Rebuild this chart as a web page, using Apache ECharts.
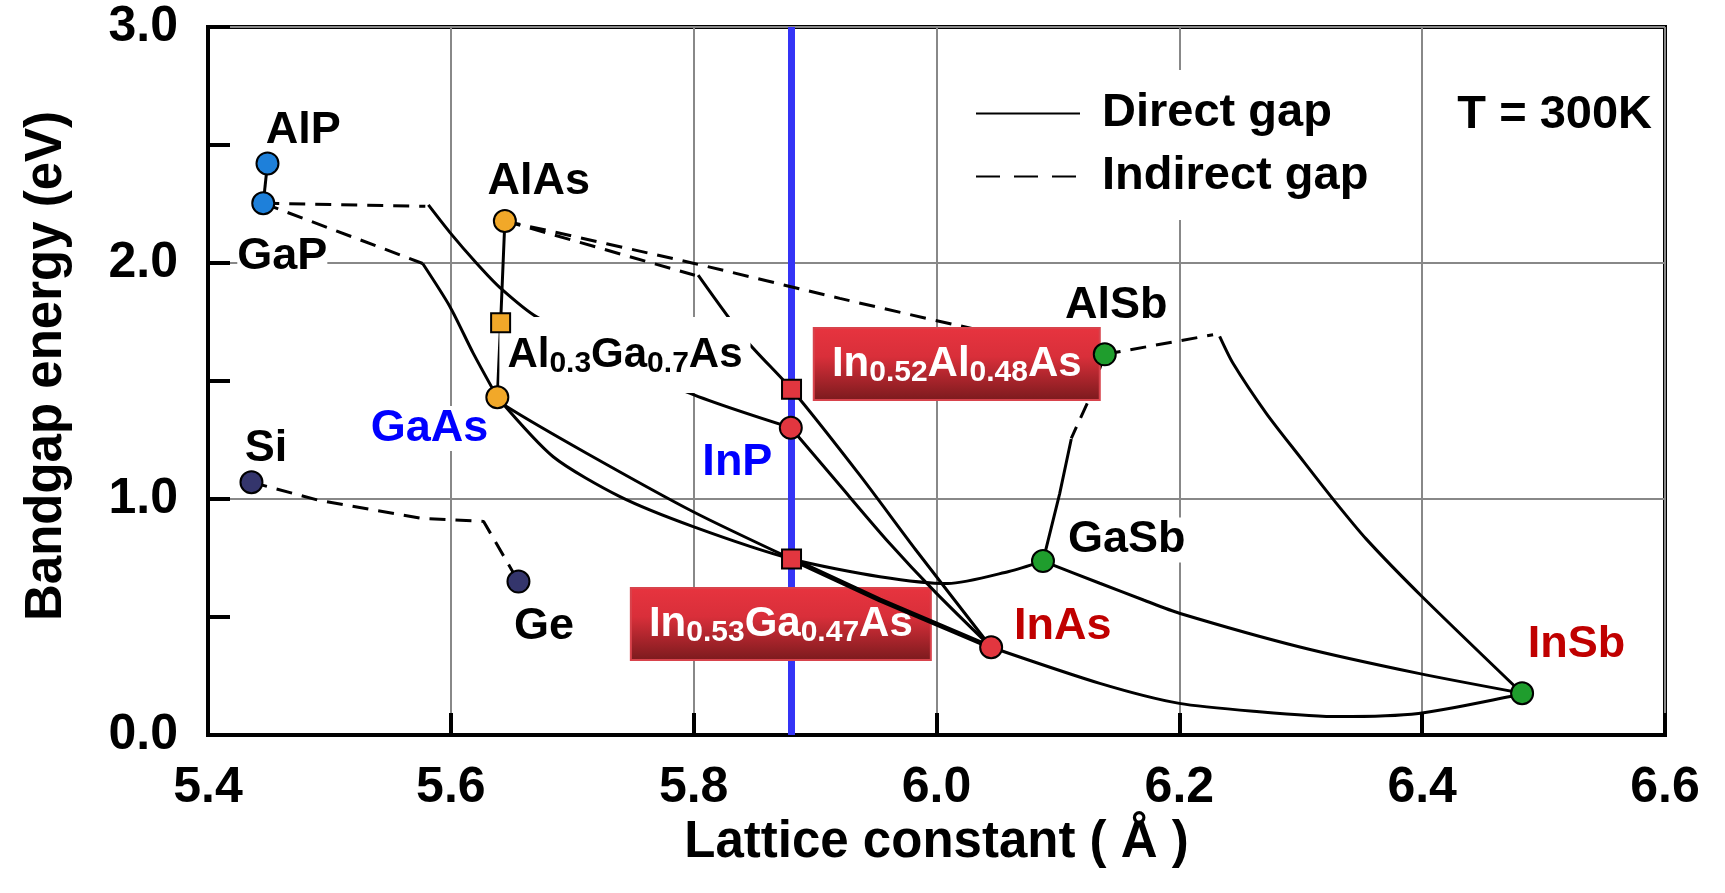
<!DOCTYPE html>
<html>
<head>
<meta charset="UTF-8">
<title>Bandgap energy vs lattice constant</title>
<style>
  html, body { margin: 0; padding: 0; background: #fff; }
  #chart { width: 1725px; height: 893px; }
</style>
</head>
<body>
<div id="chart"></div>
<script src="https://cdn.jsdelivr.net/npm/echarts@6/dist/echarts.min.js"></script>
<script>
// [lattice constant (Å), bandgap (eV)]
var AlP = [5.449, 2.422];
var GaP = [5.4455, 2.253];
var AlAs = [5.6445, 2.178];
var GaAs = [5.6383, 1.431];
var Al03Ga07As = [5.641, 1.747];
var Si = [5.4358, 1.071];
var Ge = [5.6557, 0.650];
var InP = [5.880, 1.302];
var InAs = [6.045, 0.372];
var In052Al048As = [5.8806, 1.465];
var In053Ga047As = [5.8806, 0.746];
var AlSb = [6.1386, 1.613];
var GaSb = [6.0877, 0.737];
var InSb = [6.4823, 0.177];
var inpLattice = 5.8807;

// alloy curves, "Dir" = direct gap (solid), "Ind" = indirect gap (dashed)
var alGaPDir = [AlP, GaP];
var gaInPInd = [GaP, [5.579, 2.240]];
var gaInPDir = [[5.5815, 2.246], [5.599, 2.131], [5.621, 2.000], [5.640, 1.898], [5.671, 1.771], [5.790, 1.462], InP];
var gaAsPInd = [GaP, [5.5768, 1.998]];
var gaAsPDir = [[5.5768, 1.998], [5.5993, 1.815], [5.6185, 1.617], GaAs];
var alGaAsDir = [AlAs, Al03Ga07As, GaAs];
var alAsSbInd = [AlAs, [5.7996, 1.999], [5.9204, 1.850], [6.030, 1.722], AlSb];
var alInAsInd = [AlAs, [5.801, 1.948]];
var alInAsDir = [[5.8037, 1.949], [5.843, 1.674], In052Al048As, [5.937, 1.10], [5.983, 0.784], InAs];
var inAsPDir = [InP, [5.92, 1.06], [5.96, 0.82], [6.00, 0.60], InAs];
var gaInAsDir = [GaAs, [5.6459, 1.392], [5.7118, 1.194], [5.7996, 0.946], In053Ga047As];
var gaInAsDir2 = [In053Ga047As, [5.9534, 0.572], InAs];
var gaAsSbDir = [GaAs, [5.6843, 1.179], [5.7393, 1.010], [5.7996, 0.883], In053Ga047As, [5.9534, 0.671], [6.0093, 0.642], [6.0596, 0.693], GaSb];
var gaInSbDir = [GaSb, [6.1345, 0.643], [6.1705, 0.572], [6.2, 0.516], [6.2985, 0.374], [6.397, 0.261], InSb];
var inAsSbDir = [InAs, [6.1345, 0.219], [6.2, 0.134], [6.2657, 0.099], [6.3313, 0.078], [6.397, 0.091], [6.4726, 0.163], InSb];
var alInSbInd = [AlSb, [6.2278, 1.696]];
var alInSbDir = [[6.2332, 1.689], [6.2442, 1.575], [6.2716, 1.363], [6.2991, 1.180], [6.3265, 1.000], [6.354, 0.830], [6.40, 0.586], InSb];
var alGaSbInd = [AlSb, [6.1247, 1.412], [6.111, 1.257]];
var alGaSbDir = [[6.111, 1.254], [6.1015, 1.024], GaSb];
var siGeInd = [Si, [5.49, 0.996], [5.5754, 0.918], [5.627, 0.905], Ge];

// text annotations: name and where it sits
var blackLabels = ['AlP', 'GaP', 'AlAs', 'Si', 'Ge', 'AlSb', 'GaSb'];
var blackLabelPos = [[5.4785, 2.563], [5.4612, 2.027], [5.6725, 2.347], [5.4478, 1.214], [5.6768, 0.459], [6.148, 1.818], [6.1567, 0.826]];
var blueLabels = ['GaAs', 'InP'];
var blueLabelPos = [[5.5824, 1.299], [5.836, 1.153]];
var redLabels = ['InAs', 'InSb'];
var redLabelPos = [[6.104, 0.458], [6.5272, 0.381]];
var alGaAsLabelPos = [5.7434, 1.610];
var inGaAsBoxPos = [5.8718, 0.470];
var inAlAsBoxPos = [6.0167, 1.572];

var FONT = 'Liberation Sans, Arial, Helvetica, sans-serif';
var chart = echarts.init(document.getElementById('chart'));

function curve(data, dashed, smooth, width) {
  return {
    type: 'line',
    data: data,
    z: 3,
    symbol: 'none',
    smooth: smooth ? 0.25 : false,
    silent: true,
    lineStyle: { color: '#000', width: width || 3, type: dashed ? [16, 10] : 'solid' }
  };
}

function markers(data, color, shape) {
  return {
    type: 'scatter',
    data: data,
    z: 6,
    symbol: shape || 'circle',
    symbolSize: shape === 'rect' ? 19 : 22,
    silent: true,
    itemStyle: { color: color, borderColor: '#000', borderWidth: 2, opacity: 1 }
  };
}

function textSeries(names, pos, color) {
  return {
    type: 'scatter',
    z: 1,
    symbolSize: 0,
    silent: true,
    itemStyle: { color: 'transparent', opacity: 1 },
    data: names.map(function (n, i) {
      return { value: pos[i], name: n };
    }),
    label: {
      show: true,
      position: 'inside',
      formatter: '{b}',
      color: color,
      opacity: 1,
      fontSize: 45,
      fontWeight: 'bold',
      fontFamily: FONT,
      backgroundColor: '#fff'
    }
  };
}

var subRich = {
  m: { fontSize: 42, lineHeight: 50, fontWeight: 'bold', fontFamily: FONT, color: '#fff' },
  s: { fontSize: 30, lineHeight: 30, fontWeight: 'bold', fontFamily: FONT, color: '#fff', padding: [18, 0, 0, 0] }
};

function redBox(pos, text, w, z) {
  return {
    type: 'scatter',
    z: z,
    symbolSize: 0,
    silent: true,
    itemStyle: { color: 'transparent', opacity: 1 },
    data: [{ value: pos }],
    label: {
      show: true,
      position: 'inside',
      formatter: text,
      opacity: 1,
      width: w,
      align: 'center',
      verticalAlign: 'middle',
      padding: [10, 0, 10, 0],
      borderColor: '#d8434c',
      borderWidth: 2,
      backgroundColor: new echarts.graphic.LinearGradient(0, 0, 0, 1, [
        { offset: 0, color: '#e7343f' },
        { offset: 0.4, color: '#d92f3a' },
        { offset: 1, color: '#7a1a1d' }
      ]),
      rich: subRich
    }
  };
}

var series = [
  { name: 'Direct gap', type: 'line', data: [], symbol: 'none', lineStyle: { color: '#000', width: 3 }, itemStyle: { color: '#000' } },
  { name: 'Indirect gap', type: 'line', data: [], symbol: 'none', lineStyle: { color: '#000', width: 3, type: [19, 11] }, itemStyle: { color: '#000' } },
  // InP lattice constant
  {
    type: 'line', data: [], z: 1.5, silent: true,
    markLine: {
      z: 1.5,
      silent: true, symbol: 'none', label: { show: false }, animation: false,
      lineStyle: { color: '#3434f6', width: 7, type: 'solid', opacity: 1 },
      data: [{ xAxis: inpLattice }]
    }
  },
  curve(alGaPDir, false, false),
  curve(gaInPInd, true, false),
  curve(gaInPDir, false, true),
  curve(gaAsPInd, true, false),
  curve(gaAsPDir, false, true),
  curve(alGaAsDir, false, false),
  curve(alAsSbInd, true, true),
  curve(alInAsInd, true, false),
  curve(alInAsDir, false, true),
  curve(inAsPDir, false, true),
  curve(gaInAsDir, false, true),
  curve(gaInAsDir2, false, false, 5),
  curve(gaAsSbDir, false, true),
  curve(gaInSbDir, false, true),
  curve(inAsSbDir, false, true),
  curve(alInSbInd, true, false),
  curve(alInSbDir, false, true),
  curve(alGaSbInd, true, false),
  curve(alGaSbDir, false, false),
  curve(siGeInd, true, false),
  textSeries(blackLabels, blackLabelPos, '#000'),
  textSeries(blueLabels, blueLabelPos, '#0000ff'),
  textSeries(redLabels, redLabelPos, '#c00000'),
  {
    type: 'scatter', z: 4, symbolSize: 0, silent: true,
    itemStyle: { color: 'transparent', opacity: 1 },
    data: [{ value: alGaAsLabelPos }],
    label: {
      show: true, position: 'inside', opacity: 1,
      formatter: '{m|Al}{s|0.3}{m|Ga}{s|0.7}{m|As}',
      backgroundColor: '#fff',
      padding: [13, 8, 13, 8],
      rich: {
        m: { fontSize: 42, lineHeight: 50, fontWeight: 'bold', fontFamily: FONT, color: '#000' },
        s: { fontSize: 30, lineHeight: 30, fontWeight: 'bold', fontFamily: FONT, color: '#000', padding: [18, 0, 0, 0] }
      }
    }
  },
  redBox(inGaAsBoxPos, '{m|In}{s|0.53}{m|Ga}{s|0.47}{m|As}', 298, 2.5),
  redBox(inAlAsBoxPos, '{m|In}{s|0.52}{m|Al}{s|0.48}{m|As}', 284, 4),
  markers([AlP, GaP], '#1e80da'),
  markers([AlAs, GaAs], '#f1a829'),
  markers([Al03Ga07As], '#f1a829', 'rect'),
  markers([Si, Ge], '#34356c'),
  markers([InP, InAs], '#e2363f'),
  markers([In052Al048As, In053Ga047As], '#e2363f', 'rect'),
  markers([AlSb, GaSb, InSb], '#1f9d2d')
];

var option = {
  animation: false,
  backgroundColor: '#fff',
  textStyle: { fontFamily: FONT },
  title: {
    text: 'T = 300K',
    right: 73, top: 92, padding: 0,
    textStyle: { fontSize: 47, fontWeight: 'bold', color: '#000', fontFamily: FONT }
  },
  legend: {
    data: [
      { name: 'Direct gap' },
      { name: 'Indirect gap', lineStyle: { type: [24, 14] } }
    ],
    orient: 'vertical',
    left: 950, top: 70,
    padding: [20, 30, 20, 25],
    backgroundColor: '#fff',
    itemWidth: 104, itemHeight: 47, itemGap: 16,
    itemStyle: { opacity: 0 },
    selectedMode: false,
    textStyle: { fontSize: 47, fontWeight: 'bold', color: '#000', fontFamily: FONT, padding: [0, 0, 0, 17] }
  },
  grid: {
    left: 208, right: 60, top: 27, bottom: 158,
    show: true, borderColor: '#000', borderWidth: 4, backgroundColor: 'transparent'
  },
  xAxis: {
    type: 'value',
    min: 5.4, max: 6.6, interval: 0.2,
    name: 'Lattice constant ( Å )',
    nameLocation: 'middle',
    nameGap: 72,
    nameTextStyle: { fontSize: 51, fontWeight: 'bold', color: '#000', fontFamily: FONT },
    axisLine: { lineStyle: { color: '#000', width: 4 } },
    axisTick: { inside: true, length: 22, lineStyle: { color: '#000', width: 4 } },
    splitLine: { show: true, lineStyle: { color: '#888', width: 2 } },
    axisLabel: {
      fontSize: 50, fontWeight: 'bold', color: '#000', fontFamily: FONT, margin: 28,
      formatter: function (v) { return v.toFixed(1); }
    }
  },
  yAxis: {
    type: 'value',
    min: 0, max: 3, interval: 1,
    name: 'Bandgap energy (eV)',
    nameLocation: 'middle',
    nameGap: 136,
    nameRotate: 90,
    nameTextStyle: { fontSize: 51, fontWeight: 'bold', color: '#000', fontFamily: FONT, padding: [0, 0, 0, 30] },
    axisLine: { lineStyle: { color: '#000', width: 4 } },
    axisTick: { inside: true, length: 22, lineStyle: { color: '#000', width: 4 } },
    minorTick: { show: true, splitNumber: 2, length: 22, lineStyle: { color: '#000', width: 4 } },
    splitLine: { show: true, lineStyle: { color: '#888', width: 2 } },
    axisLabel: {
      fontSize: 50, fontWeight: 'bold', color: '#000', fontFamily: FONT, margin: 30,
      formatter: function (v) { return v.toFixed(1); }
    }
  },
  series: series
};

chart.setOption(option);
</script>
</body>
</html>
